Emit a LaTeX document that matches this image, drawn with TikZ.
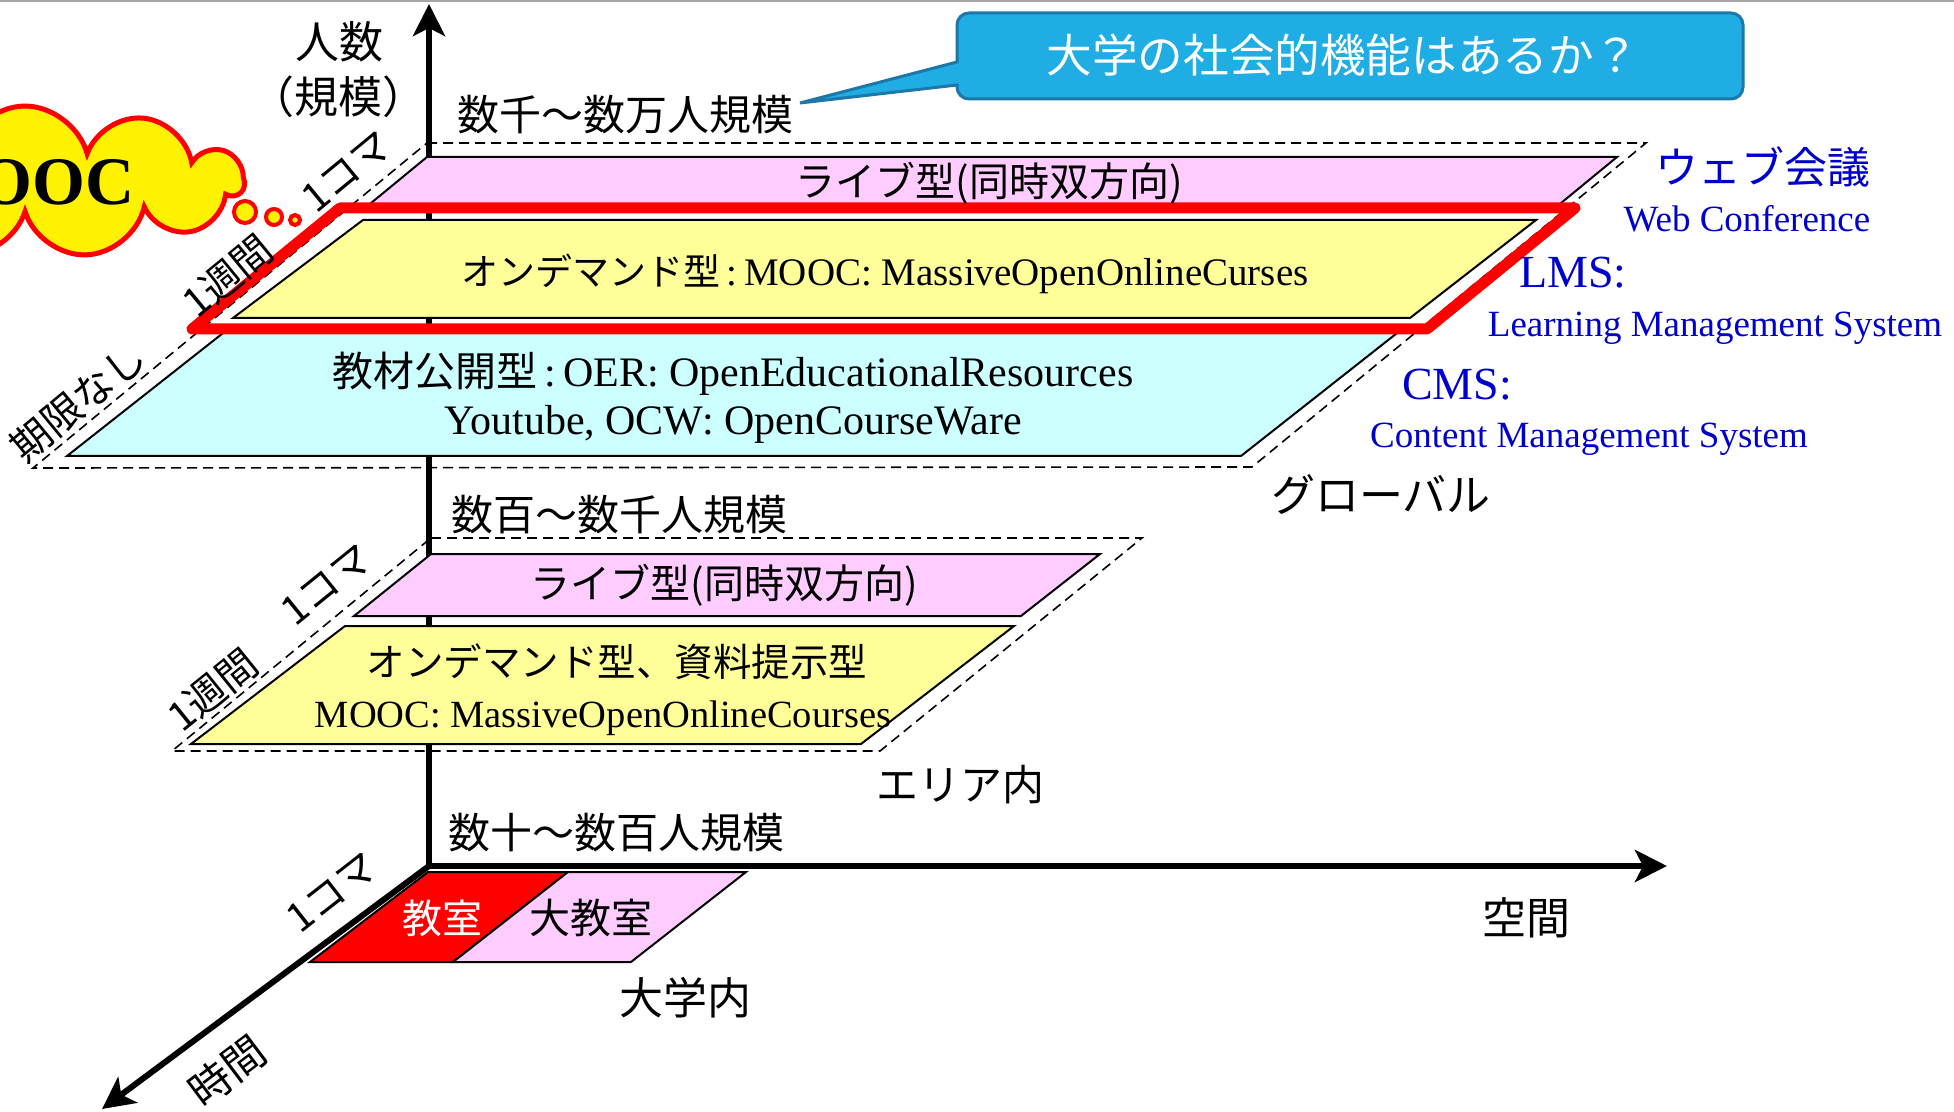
\documentclass[tikz,border=0pt]{standalone}
\usepackage{fontspec}
\setmainfont{Liberation Serif}
\newfontfamily\jp{Noto Sans CJK JP}
\usetikzlibrary{shapes.symbols,arrows.meta}
\newcommand\setfs[1]{\fontsize{#1}{#1}\selectfont}
\definecolor{pinkF}{RGB}{255,204,255}
\definecolor{yellowF}{RGB}{255,255,153}
\definecolor{cyanF}{RGB}{204,255,255}
\definecolor{calloutF}{RGB}{31,173,228}
\definecolor{calloutD}{RGB}{28,120,168}
\definecolor{blueT}{RGB}{0,0,204}
\tikzset{
  plane/.style={draw=black, line width=1pt, line join=miter},
  dashplane/.style={draw=black, line width=0.8pt, dash pattern=on 5pt off 3pt},
  axisline/.style={line width=3pt, -{Stealth[length=16pt,width=16pt,inset=4pt]}},
  jl/.style={inner sep=0pt, font=\jp\setfs{#1}},
  rl/.style={inner sep=0pt, anchor=base, font=\setfs{#1}},
  bl/.style={inner sep=0pt, anchor=base, text=blueT, font=\setfs{#1}},
  rot/.style={inner sep=0pt, font=\jp\setfs{20}, rotate=#1},
  bubble/.style={draw=red, fill=yellow, line width=2pt}
}
\begin{document}
\begin{tikzpicture}[x=0.5pt,y=-0.5pt]
\useasboundingbox (0,0) rectangle (1954,1112);
\clip (0,0) rectangle (1954,1112);
\fill[white] (0,0) rectangle (1954,1112);
\draw[black!35, line width=1pt] (0,1) -- (1954,1);

% dashed frames
\draw[dashplane] (427,143) -- (1646,143) -- (1252,467) -- (33,468) -- cycle;
\draw[dashplane] (431,538) -- (1142,538) -- (880,751) -- (172,751) -- cycle;

% axes
\coordinate (O) at (429,866);
\coordinate (ytip) at (429,4);
\coordinate (xtip) at (1667,866);
\coordinate (ttip) at (102,1109);
\draw[axisline] (O) -- (ytip);
\draw[axisline] (O) -- (xtip);
\draw[axisline] (O) -- (ttip);

% global layer
\draw[plane, fill=pinkF] (427,157) -- (1617,157) -- (1555,208) -- (365,208) -- cycle;
\draw[plane, fill=cyanF] (232,326) -- (1406,326) -- (1241,456) -- (67,456) -- cycle;
\draw[plane, fill=yellowF] (363,220) -- (1536,220) -- (1410,318) -- (233,318) -- cycle;
\draw[red, line width=5.5pt, line join=round] (340,208) -- (1575,208) -- (1427,329) -- (192,329) -- cycle;

% area layer
\draw[plane, fill=pinkF] (431,554) -- (1100,554) -- (1021,616) -- (354,616) -- cycle;
\draw[plane, fill=yellowF] (345,626) -- (1014,626) -- (861,744) -- (191,744) -- cycle;

% campus layer
\draw[plane, fill=red] (428,872) -- (568,872) -- (453,962) -- (310,962) -- cycle;
\draw[plane, fill=pinkF] (568,872) -- (746,872) -- (631,962) -- (453,962) -- cycle;

% axis labels
\node[jl=22] (ninzu) at (339,42) {人数};
\node[jl=22] (kibo) at (338,97) {（規模）};
\node[jl=22] (kukan) at (1526,918) {空間};
\node[rot=37, font=\jp\setfs{21}] (jikan) at (227,1071) {時間};

% scale labels
\node[jl=21] (s1) at (625,115) {数千〜数万人規模};
\node[jl=21] (s2) at (619,515) {数百〜数千人規模};
\node[jl=21] (s3) at (616,833) {数十〜数百人規模};

% region labels
\node[jl=22] (glob) at (1381,495) {グローバル};
\node[jl=21] (area) at (960,785) {エリア内};
\node[jl=22] (univ) at (685,998) {大学内};

% rotated time labels
\node[rot=39.5] (k1) at (347,172) {1コマ};
\node[rot=39.5] (w1) at (228,276) {1週間};
\node[rot=39.5] (n1) at (78,402) {期限なし};
\node[rot=39] (k2) at (327,585) {1コマ};
\node[rot=39] (w2) at (213,690) {1週間};
\node[rot=38] (k3) at (333,893) {1コマ};

% global layer texts
\node[jl=20] (live1) at (989,183) {ライブ型(同時双方向)};
\node[rl=19.5] (od1) at (885,286) {{\jp\setfs{18.5}オンデマンド型}\,:\,MOOC: MassiveOpenOnlineCurses};
\node[rl=21] (oer) at (733,387) {{\jp\setfs{20.5}教材公開型}\,:\,OER: OpenEducationalResources};
\node[rl=21] (ocw) at (733,435) {Youtube, OCW: OpenCourseWare};

% area layer texts
\node[jl=20] (live2) at (724,585) {ライブ型(同時双方向)};
\node[jl=19.25] (od2) at (617,662) {オンデマンド型、資料提示型};
\node[rl=19.25] (mooc2) at (603,727) {MOOC: MassiveOpenOnlineCourses};

% campus texts
\node[jl=20, text=white] (kyo) at (442,918) {教室};
\node[jl=20.5] (dkyo) at (591,918) {大教室};

% right side blue labels
\node[jl=21.5, text=blueT] (webj) at (1763,167) {ウェブ会議};
\node[bl=18.5] (webe) at (1747,232) {Web Conference};
\node[bl=23] (lms) at (1573,288) {LMS:};
\node[bl=18.5] (lmse) at (1715,337) {Learning Management System};
\node[bl=23] (cms) at (1457,400) {CMS:};
\node[bl=18.5] (cmse) at (1589,448) {Content Management System};

% cloud
\node[cloud, cloud puffs=11, aspect=3.5, draw=red, fill=yellow, line width=2.5pt,
      minimum width=218pt, minimum height=60pt, inner sep=0pt,
      font=\bfseries\setfs{34}] (cloud) at (25,182) {MOOC};
\draw[bubble] (245,212) circle[radius=5.5pt];
\draw[bubble] (274,217) circle[radius=4pt];
\draw[bubble] (295,220) circle[radius=2.5pt];

% callout
\draw[fill=calloutF, draw=calloutD, line width=1.5pt]
  (957,62) [rounded corners=6pt] -- (957,13) -- (1743,13) -- (1743,99) -- (957,99)
  [sharp corners] -- (957,85) -- (800,103) -- cycle;
\node[jl=22.8, text=white] (q) at (1343,55) {大学の社会的機能はあるか？};
\end{tikzpicture}
\end{document}
